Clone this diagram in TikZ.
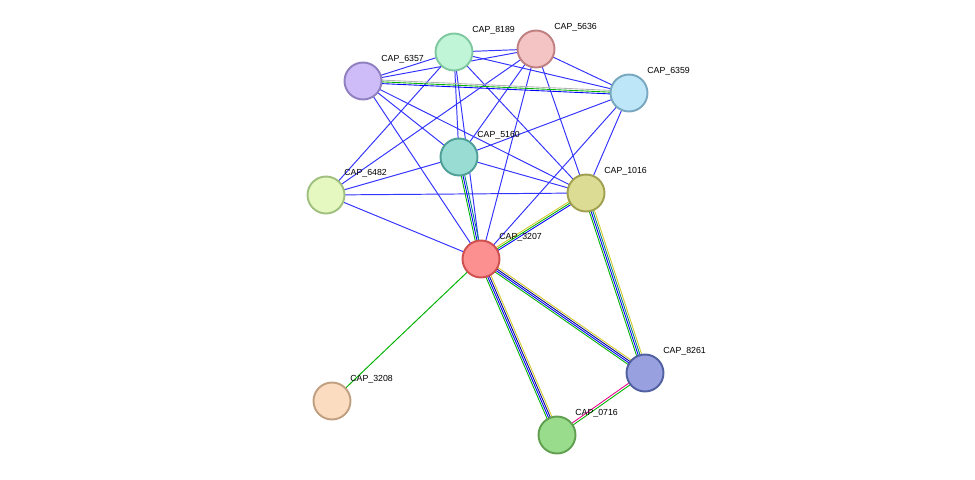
\documentclass[tikz,border=0pt]{standalone}
\usepackage{fontspec}
\setmainfont{Liberation Sans}
\usetikzlibrary{calc}
\tikzset{
  prot/.style={circle,draw,line width=1.1pt,minimum size=0.74cm,inner sep=0pt},
  lbl/.style={anchor=west,font=\fontsize{5}{6}\selectfont,inner sep=0pt},
  ed/.style={line width=0.55pt,blue!80!white}
}
\newcommand{\multiedge}[3]{%
  \foreach \col/\off in {#3}{%
    \draw[line width=0.5pt,\col] ($(#1)!\off pt!90:(#2)$) -- ($(#2)!\off pt!-90:(#1)$);}}
\begin{document}
\begin{tikzpicture}[x=0.02cm,y=-0.02cm]
  \useasboundingbox (0,0) rectangle (975,480);
  \coordinate (8189) at (454,52);
  \coordinate (5636) at (536,49);
  \coordinate (6357) at (363,81);
  \coordinate (6359) at (629,93);
  \coordinate (5160) at (459,157);
  \coordinate (6482) at (326,195);
  \coordinate (1016) at (586,193);
  \coordinate (3207) at (481,259);
  \coordinate (8261) at (645,373);
  \coordinate (3208) at (332,401);
  \coordinate (0716) at (557,435);
  \begin{scope}[ed]
    \draw (6357) -- (8189);
    \draw (6357) -- (5636);
    \draw (6357) -- (5160);
    \draw (6357) -- (1016);
    \draw (6357) -- (3207);
    \draw (8189) -- (5636);
    \draw (8189) -- (6359);
    \draw (8189) -- (5160);
    \draw (8189) -- (3207);
    \draw (8189) -- (1016);
    \draw (8189) -- (6482);
    \draw (5636) -- (6359);
    \draw (5636) -- (5160);
    \draw (5636) -- (1016);
    \draw (5636) -- (3207);
    \draw (5636) -- (6482);
    \draw (6359) -- (5160);
    \draw (6359) -- (1016);
    \draw (6359) -- (3207);
    \draw (5160) -- (6482);
    \draw (5160) -- (1016);
    \draw (6482) -- (1016);
    \draw (6482) -- (3207);
  \end{scope}
  \multiedge{6357}{6359}{blue/-1,green!70!black/0,gray!60/1}
  \multiedge{5160}{3207}{green!70!black/-1,blue/0,teal/1}
  \multiedge{1016}{3207}{yellow!80!black/-1,green!70!black/0,blue/1}
  \multiedge{1016}{8261}{green!70!black/-1.5,blue/-0.5,teal/0.5,yellow!80!black/1.5}
  \multiedge{3207}{8261}{green!70!black/-1.5,blue/-0.5,blue!60!black/0.5,yellow!80!black/1.5}
  \multiedge{3207}{0716}{green!70!black/-1.5,blue/-0.5,blue!60!black/0.5,yellow!80!black/1.5}
  \multiedge{8261}{0716}{magenta/-0.6,green!70!black/0.6}
  \draw[line width=0.55pt,green!70!black] (3207) -- (3208);
  \foreach \n/\f/\d in {8189/{rgb,255:red,192;green,245;blue,216}/{rgb,255:red,128;green,200;blue,160},
      5636/{rgb,255:red,244;green,196;blue,196}/{rgb,255:red,192;green,128;blue,128},
      6357/{rgb,255:red,205;green,188;blue,248}/{rgb,255:red,144;green,128;blue,192},
      6359/{rgb,255:red,189;green,230;blue,248}/{rgb,255:red,120;green,168;blue,192},
      5160/{rgb,255:red,152;green,220;blue,212}/{rgb,255:red,80;green,160;blue,152},
      6482/{rgb,255:red,228;green,248;blue,192}/{rgb,255:red,160;green,192;blue,128},
      1016/{rgb,255:red,220;green,220;blue,148}/{rgb,255:red,160;green,160;blue,80},
      3207/{rgb,255:red,252;green,144;blue,144}/{rgb,255:red,208;green,80;blue,80},
      8261/{rgb,255:red,152;green,160;blue,224}/{rgb,255:red,80;green,96;blue,160},
      3208/{rgb,255:red,252;green,220;blue,192}/{rgb,255:red,192;green,160;blue,128},
      0716/{rgb,255:red,152;green,220;blue,140}/{rgb,255:red,96;green,160;blue,80}}{
    \node[prot,fill=\f,draw=\d] (n\n) at (\n) {};
    \node[lbl] (l\n) at ($(\n)+(18,-22)$) {CAP\_\n};
  }
\end{tikzpicture}
\end{document}
